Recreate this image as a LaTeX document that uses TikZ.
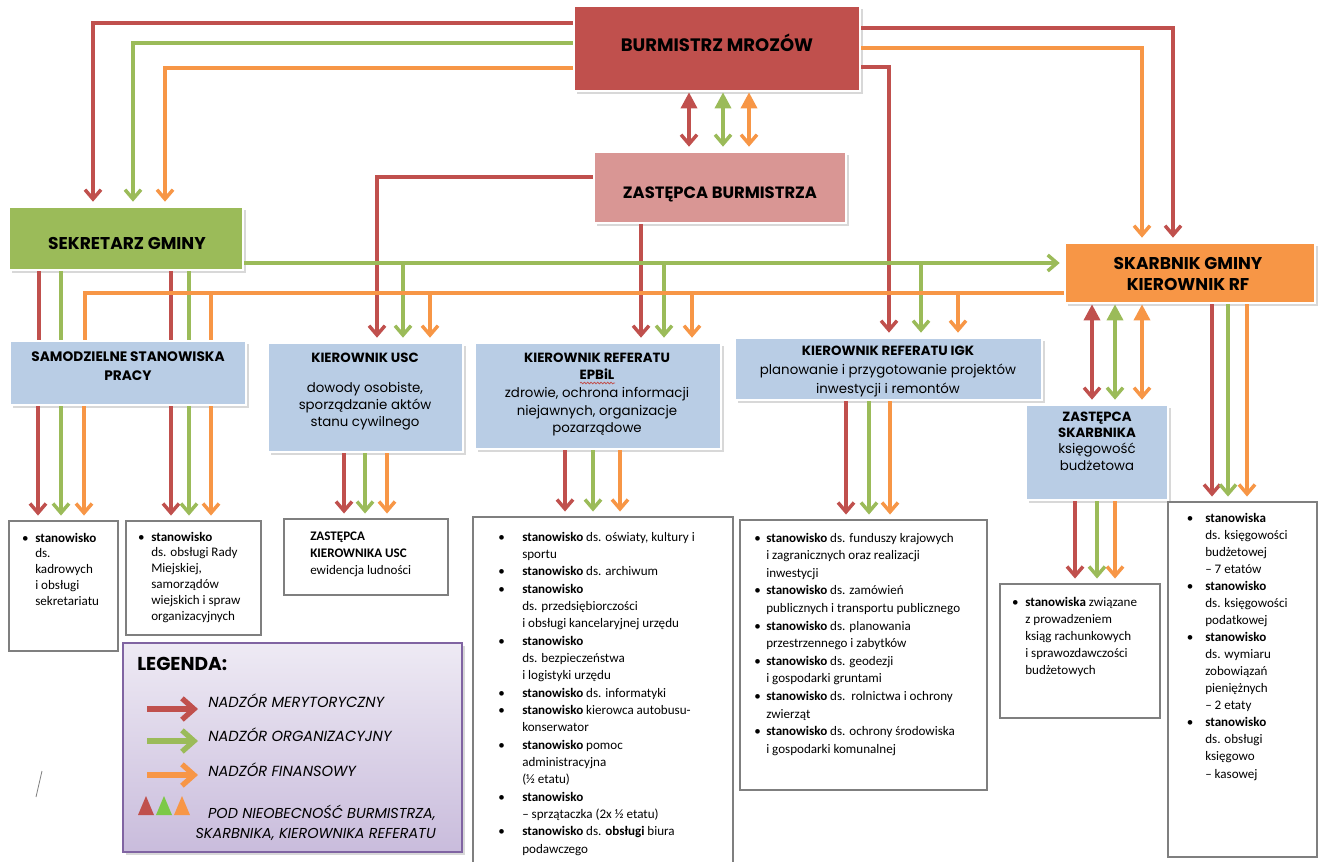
\documentclass[tikz,border=0pt]{standalone}
\usepackage{fontspec}
\setmainfont{Carlito}
\newfontfamily\gothic{Poppins}
\usetikzlibrary{positioning,arrows.meta,shadows,decorations.pathmorphing}

\definecolor{czerwony}{HTML}{C0504D}
\definecolor{rozowy}{HTML}{D99694}
\definecolor{zielony}{HTML}{9BBB59}
\definecolor{pomarancz}{HTML}{F79646}
\definecolor{niebieski}{HTML}{B9CDE5}
\definecolor{fiolet}{HTML}{8064A2}
\definecolor{fiolgora}{HTML}{EEEAF4}
\definecolor{fioldol}{HTML}{C9BCDC}
\definecolor{ramka}{HTML}{7F7F7F}

\newcommand{\pkt}[1][6pt]{\llap{\textbullet\hspace{#1}}}

\tikzset{
    kier/.style={
        rectangle,
        inner sep=0pt,
        draw=white,
        line width=2pt,
        drop shadow={shadow xshift=2pt, shadow yshift=-2pt, fill=black!30}
    },
    lista/.style={
        rectangle,
        inner sep=0pt,
        draw=ramka,
        line width=2.2pt,
        fill=white
    },
    glowny/.style={inner sep=0pt, align=center, font=\gothic\bfseries\fontsize{12.8}{15.75}\selectfont},
    opis/.style={inner sep=0pt, align=center},
    pkty/.style={inner sep=0pt, anchor=base west},
    czerw/.style={line width=2.6pt, draw=czerwony},
    ziel/.style={line width=2.6pt, draw=zielony},
    pomar/.style={line width=2.6pt, draw=pomarancz},
    strz/.style={-{Straight Barb[length=7pt,width=12pt]}, shorten >=3pt},
    dwa/.style={{Triangle[length=12pt,width=12pt]}-{Straight Barb[length=7pt,width=12pt]}, shorten >=3pt},
    legstrz/.style={line width=4pt, -{Straight Barb[length=9pt,width=16pt]}}
}

\begin{document}
\begin{tikzpicture}[x=0.75pt, y=-0.75pt]
    \useasboundingbox (0,0) rectangle (1319,861);
    \fill[white] (0,0) rectangle (1319,861);

    % Kierownictwo
    \node[kier, fill=czerwony, minimum width=214.5pt, minimum height=63.75pt] (burm) at (717,48.5) {};
    \node[glowny, font=\gothic\bfseries\fontsize{13.5}{16}\selectfont] (burm-t) at (717,43) {BURMISTRZ MROZÓW};
    \node[kier, fill=rozowy, minimum width=189pt, minimum height=53.25pt] (zast) at (720,187.5) {};
    \node[glowny, font=\gothic\bfseries\fontsize{12.3}{15}\selectfont] (zast-t) at (720,194) {ZASTĘPCA BURMISTRZA};
    \node[kier, fill=zielony, minimum width=175.5pt, minimum height=47.25pt] (sekr) at (126,238.5) {};
    \node[glowny] (sekr-t) at (127,243) {SEKRETARZ GMINY};
    \node[kier, fill=pomarancz, minimum width=187.5pt, minimum height=45pt] (skarb) at (1190,273) {};
    \node[glowny] (skarb-t) at (1188,273.5) {SKARBNIK GMINY\\KIEROWNIK RF};

    % Kierownicy komorek
    \node[kier, fill=niebieski, minimum width=177pt, minimum height=48pt] (samo) at (128,373) {};
    \node[opis, font=\gothic\fontsize{10.3}{14.25}\selectfont] (samo-t) at (128,366.5) {\textbf{SAMODZIELNE STANOWISKA}\\\textbf{PRACY}};
    \node[kier, fill=niebieski, minimum width=146.25pt, minimum height=81.75pt] (usc) at (365.5,397.5) {};
    \node[opis, font=\gothic\fontsize{10}{12.75}\selectfont] (usc-t) at (365,392) {\textbf{KIEROWNIK USC}\\[9.75pt]dowody osobiste,\\sporządzanie aktów\\stanu cywilnego};
    \node[kier, fill=niebieski, minimum width=184.5pt, minimum height=79.5pt] (epbil) at (598,396) {};
    \node[opis, font=\gothic\fontsize{10}{13.3}\selectfont] (epbil-t) at (597,394.5) {\textbf{KIEROWNIK REFERATU}\\\textbf{EPBiL}\\zdrowie, ochrona informacji\\niejawnych, organizacje\\pozarządowe};
    \node[kier, fill=niebieski, minimum width=230.25pt, minimum height=46.5pt] (igk) at (888.5,369) {};
    \node[opis, font=\gothic\fontsize{10}{13.9}\selectfont] (igk-t) at (888,371.5) {\textbf{KIEROWNIK REFERATU IGK}\\planowanie i przygotowanie projektów\\inwestycji i remontów};
    \node[kier, fill=niebieski, minimum width=106.5pt, minimum height=71.25pt] (zsk) at (1097,452.5) {};
    \node[opis, font=\gothic\fontsize{10}{12.25}\selectfont] (zsk-t) at (1097,441) {\textbf{ZASTĘPCA}\\\textbf{SKARBNIKA}\\księgowość\\budżetowa};
    \draw[czerwony, line width=0.6pt, decorate, decoration={snake, amplitude=0.6pt, segment length=2.5pt}] (580,383) -- (615,383);

    % Stanowiska
    \node[lista, minimum width=81.75pt, minimum height=97.5pt] (kadr) at (63.5,586) {};
    \node[pkty, font=\fontsize{9.8}{11.85}\selectfont] (kadr-t) at (35,542) {\begin{tabular}[t]{@{}l@{}}
        \pkt[5pt]\textbf{stanowisko}\\ ds.\\ kadrowych\\ i obsługi\\ sekretariatu
    \end{tabular}};
    \node[lista, minimum width=101.25pt, minimum height=85.5pt] (rady) at (193.5,578) {};
    \node[pkty, font=\fontsize{9.8}{11.85}\selectfont] (rady-t) at (151,541) {\begin{tabular}[t]{@{}l@{}}
        \pkt[5pt]\textbf{stanowisko}\\ ds. obsługi Rady\\ Miejskiej,\\ samorządów\\ wiejskich i spraw\\ organizacyjnych
    \end{tabular}};
    \node[lista, minimum width=123pt, minimum height=57pt] (zusc) at (366,557) {};
    \node[pkty, font=\fontsize{9.8}{12.75}\selectfont] (zusc-t) at (310,540) {\begin{tabular}[t]{@{}l@{}}
        \textbf{ZASTĘPCA}\\ \textbf{KIEROWNIKA USC}\\ ewidencja ludności
    \end{tabular}};
    \node[lista, minimum width=195pt, minimum height=268.5pt] (epbl) at (603,696) {};
    \node[pkty, font=\fontsize{9.8}{13}\selectfont] (epbl-t) at (522,541) {\begin{tabular}[t]{@{}l@{}}
        \pkt[13pt]\textbf{stanowisko} ds. oświaty, kultury i\\ sportu\\
        \pkt[13pt]\textbf{stanowisko} ds. archiwum\\
        \pkt[13pt]\textbf{stanowisko}\\ ds. przedsiębiorczości\\ i obsługi kancelaryjnej urzędu\\
        \pkt[13pt]\textbf{stanowisko}\\ ds. bezpieczeństwa\\ i logistyki urzędu\\
        \pkt[13pt]\textbf{stanowisko} ds. informatyki\\
        \pkt[13pt]\textbf{stanowisko} kierowca autobusu-\\ konserwator\\
        \pkt[13pt]\textbf{stanowisko} pomoc\\ administracyjna\\ (½ etatu)\\
        \pkt[13pt]\textbf{stanowisko}\\ – sprzątaczka (2x ½ etatu)\\
        \pkt[13pt]\textbf{stanowisko} ds. \textbf{obsługi} biura\\ podawczego
    \end{tabular}};
    \node[lista, minimum width=185.25pt, minimum height=202.5pt] (igkl) at (863.5,655) {};
    \node[pkty, font=\fontsize{9.8}{13.2}\selectfont] (igkl-t) at (766,542) {\begin{tabular}[t]{@{}l@{}}
        \pkt[4pt]\textbf{stanowisko} ds. funduszy krajowych\\ i zagranicznych oraz realizacji\\ inwestycji\\
        \pkt[4pt]\textbf{stanowisko} ds. zamówień\\ publicznych i transportu publicznego\\
        \pkt[4pt]\textbf{stanowisko} ds. planowania\\ przestrzennego i zabytków\\
        \pkt[4pt]\textbf{stanowisko} ds. geodezji\\ i gospodarki gruntami\\
        \pkt[4pt]\textbf{stanowisko} ds.\ \ rolnictwa i ochrony\\ zwierząt\\
        \pkt[4pt]\textbf{stanowisko} ds. ochrony środowiska\\ i gospodarki komunalnej
    \end{tabular}};
    \node[lista, minimum width=120pt, minimum height=100.5pt] (zskl) at (1080,651) {};
    \node[pkty, font=\fontsize{9.8}{12.75}\selectfont] (zskl-t) at (1025,606) {\begin{tabular}[t]{@{}l@{}}
        \pkt[5pt]\textbf{stanowiska} związane\\ z prowadzeniem\\ ksiąg rachunkowych\\ i sprawozdawczości\\ budżetowych
    \end{tabular}};
    \node[lista, minimum width=111.75pt, minimum height=266.25pt] (skl) at (1242.5,679.5) {};
    \node[pkty, font=\fontsize{9.8}{12.8}\selectfont] (skl-t) at (1205,522) {\begin{tabular}[t]{@{}l@{}}
        \pkt[9pt]\textbf{stanowiska}\\ ds. księgowości\\ budżetowej\\ – 7 etatów\\
        \pkt[9pt]\textbf{stanowisko}\\ ds. księgowości\\ podatkowej\\
        \pkt[9pt]\textbf{stanowisko}\\ ds. wymiaru\\ zobowiązań\\ pieniężnych\\ – 2 etaty\\
        \pkt[9pt]\textbf{stanowisko}\\ ds. obsługi\\ księgowo\\ – kasowej
    \end{tabular}};

    % Legenda
    \node[rectangle, draw=fiolet, line width=2.2pt, top color=fiolgora, bottom color=fioldol,
        drop shadow={shadow xshift=2pt, shadow yshift=-2pt, fill=black!30},
        minimum width=254.25pt, minimum height=156.75pt] (leg) at (292.5,747.5) {};
    \node[anchor=west, inner sep=0pt, font=\gothic\bfseries\fontsize{14}{16}\selectfont] (leg-t) at (137,664) {LEGENDA:};
    \node[anchor=west, inner sep=0pt, font=\gothic\itshape\fontsize{11}{13}\selectfont] (leg-m) at (208,701) {NADZÓR MERYTORYCZNY};
    \node[anchor=west, inner sep=0pt, font=\gothic\itshape\fontsize{11}{13}\selectfont] (leg-o) at (208,735) {NADZÓR ORGANIZACYJNY};
    \node[anchor=west, inner sep=0pt, font=\gothic\itshape\fontsize{11}{13}\selectfont] (leg-f) at (208,770) {NADZÓR FINANSOWY};
    \node[anchor=east, inner sep=0pt, align=right, font=\gothic\itshape\fontsize{10.8}{15}\selectfont] (leg-p) at (436,823) {POD NIEOBECNOŚĆ BURMISTRZA,\\SKARBNIKA, KIEROWNIKA REFERATU};
    \draw[legstrz, czerwony] ([shift={(-61,8)}]leg-m.west) -- ([shift={(-10,8)}]leg-m.west);
    \draw[legstrz, zielony] ([shift={(-61,6)}]leg-o.west) -- ([shift={(-10,6)}]leg-o.west);
    \draw[legstrz, pomarancz] ([shift={(-61,5)}]leg-f.west) -- ([shift={(-10,5)}]leg-f.west);
    \fill[czerwony] (138,815) -- (146,796) -- (154,815) -- cycle;
    \fill[zielony!80!green] (156,815) -- (164,796) -- (172,815) -- cycle;
    \fill[pomarancz] (174,815) -- (182,796) -- (190,815) -- cycle;
    \draw[black!50, line width=0.6pt] (42,771) -- (36,797);

    % Nadzor burmistrza
    \draw[czerw, strz] (burm.west |- 0,23) -| (93,0 |- sekr.north);
    \draw[ziel, strz] (burm.west |- 0,43) -| (133,0 |- sekr.north);
    \draw[pomar, strz] (burm.west |- 0,68) -| (165,0 |- sekr.north);
    \draw[czerw, strz] (burm.east |- 0,28) -| (1173,0 |- skarb.north);
    \draw[pomar, strz] (burm.east |- 0,48) -| (1142,0 |- skarb.north);
    \draw[czerw, strz] (burm.east |- 0,67) -| (889,0 |- igk.north);
    \draw[czerw, dwa] (689,0 |- burm.south) -- (689,0 |- zast.north);
    \draw[ziel, dwa] (723,0 |- burm.south) -- (723,0 |- zast.north);
    \draw[pomar, dwa] (749,0 |- burm.south) -- (749,0 |- zast.north);

    % Nadzor zastepcy
    \draw[czerw, strz] (zast.west |- 0,177) -| (377,0 |- usc.north);
    \draw[czerw, strz] (641,0 |- zast.south) -- (641,0 |- epbil.north);

    % Nadzor sekretarza
    \coordinate (gbus) at (0,263);
    \draw[ziel, strz] (sekr.east |- gbus) -- (skarb.west |- gbus);
    \draw[ziel, strz] (403,0 |- gbus) -- (403,0 |- usc.north);
    \draw[ziel, strz] (664,0 |- gbus) -- (664,0 |- epbil.north);
    \draw[ziel, strz] (921,0 |- gbus) -- (921,0 |- igk.north);
    \draw[czerw] (39,0 |- sekr.south) -- (39,0 |- samo.north);
    \draw[ziel] (61,0 |- sekr.south) -- (61,0 |- samo.north);
    \draw[czerw] (171,0 |- sekr.south) -- (171,0 |- samo.north);
    \draw[ziel] (189,0 |- sekr.south) -- (189,0 |- samo.north);

    % Nadzor skarbnika
    \coordinate (obus) at (0,293);
    \draw[pomar] (skarb.west |- obus) -| (85,0 |- samo.north);
    \draw[pomar] (211,0 |- obus) -- (211,0 |- samo.north);
    \draw[pomar, strz] (430,0 |- obus) -- (430,0 |- usc.north);
    \draw[pomar, strz] (692,0 |- obus) -- (692,0 |- epbil.north);
    \draw[pomar, strz] (958,0 |- obus) -- (958,0 |- igk.north);
    \draw[czerw, dwa] (1092,0 |- skarb.south) -- (1092,0 |- zsk.north);
    \draw[ziel, dwa] (1115,0 |- skarb.south) -- (1115,0 |- zsk.north);
    \draw[pomar, dwa] (1142,0 |- skarb.south) -- (1142,0 |- zsk.north);

    % Do stanowisk
    \draw[czerw, strz] (38,0 |- samo.south) -- (38,0 |- kadr.north);
    \draw[ziel, strz] (61,0 |- samo.south) -- (61,0 |- kadr.north);
    \draw[pomar, strz] (84,0 |- samo.south) -- (84,0 |- kadr.north);
    \draw[czerw, strz] (171,0 |- samo.south) -- (171,0 |- rady.north);
    \draw[ziel, strz] (189,0 |- samo.south) -- (189,0 |- rady.north);
    \draw[pomar, strz] (211,0 |- samo.south) -- (211,0 |- rady.north);
    \draw[czerw, strz] (344,0 |- usc.south) -- (344,0 |- zusc.north);
    \draw[ziel, strz] (365,0 |- usc.south) -- (365,0 |- zusc.north);
    \draw[pomar, strz] (387,0 |- usc.south) -- (387,0 |- zusc.north);
    \draw[czerw, strz] (565,0 |- epbil.south) -- (565,0 |- epbl.north);
    \draw[ziel, strz] (593,0 |- epbil.south) -- (593,0 |- epbl.north);
    \draw[pomar, strz] (620,0 |- epbil.south) -- (620,0 |- epbl.north);
    \draw[czerw, strz] (846,0 |- igk.south) -- (846,0 |- igkl.north);
    \draw[ziel, strz] (869,0 |- igk.south) -- (869,0 |- igkl.north);
    \draw[pomar, strz] (890,0 |- igk.south) -- (890,0 |- igkl.north);
    \draw[czerw, strz] (1075,0 |- zsk.south) -- (1075,0 |- zskl.north);
    \draw[ziel, strz] (1097,0 |- zsk.south) -- (1097,0 |- zskl.north);
    \draw[pomar, strz] (1115,0 |- zsk.south) -- (1115,0 |- zskl.north);
    \draw[czerw, strz] (1212,0 |- skarb.south) -- (1212,0 |- skl.north);
    \draw[ziel, strz] (1228,0 |- skarb.south) -- (1228,0 |- skl.north);
    \draw[pomar, strz] (1247,0 |- skarb.south) -- (1247,0 |- skl.north);

\end{tikzpicture}
\end{document}
